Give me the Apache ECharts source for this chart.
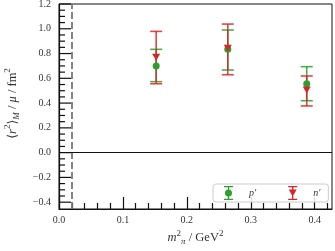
<!DOCTYPE html>
<html><head><meta charset="utf-8">
<script src="https://cdn.jsdelivr.net/npm/echarts@6/dist/echarts.min.js"></script>
<style>html,body{margin:0;padding:0;background:#fff}#c{width:335px;height:251px}</style>
</head><body><div id="c"></div>
<script>
const mpi2 = [0.152, 0.264, 0.3875];
const pVal = [0.70, 0.835, 0.556];
const pLo  = [0.573, 0.667, 0.419];
const pHi  = [0.834, 0.99, 0.694];
const nVal = [0.77, 0.842, 0.506];
const nLo  = [0.556, 0.629, 0.377];
const nHi  = [0.979, 1.038, 0.619];
const physMpi2 = 0.0182;
const xRange = [0, 0.427];
const yRange = [-0.455, 1.2];
const xTickStep = 0.1, xMinorSplit = 5;
const yTickStep = 0.2;
const yTickFirst = -0.4;
const yMajorTicks = [-0.4, -0.2, 0.0, 0.2, 0.4, 0.6, 0.8, 1.0, 1.2];
const yMinorTicks = [-0.35,-0.3,-0.25,-0.15,-0.1,-0.05,0.05,0.1,0.15,0.25,0.3,0.35,0.45,0.5,0.55,0.65,0.7,0.75,0.85,0.9,0.95,1.05,1.1,1.15];

const GREEN = '#2ca02c', RED = '#d62728';
const FONT = "'Liberation Serif','DejaVu Serif',serif";

function errRender(color){
  return function(params, api){
    const x = api.value(0), lo = api.value(1), hi = api.value(2);
    const a = api.coord([x, hi]), b = api.coord([x, lo]);
    const w = 6, st = {stroke: color, lineWidth: 1.6, opacity: 0.85};
    return {type:'group', children:[
      {type:'line', shape:{x1:a[0],y1:a[1],x2:b[0],y2:b[1]}, style:st},
      {type:'line', shape:{x1:a[0]-w,y1:a[1],x2:a[0]+w,y2:a[1]}, style:st},
      {type:'line', shape:{x1:b[0]-w,y1:b[1],x2:b[0]+w,y2:b[1]}, style:st}
    ]};
  };
}
const pErr = mpi2.map((x,i)=>[x, pLo[i], pHi[i]]);
const nErr = mpi2.map((x,i)=>[x, nLo[i], nHi[i]]);
const pPts = mpi2.map((x,i)=>[x, pVal[i]]);
const nPts = mpi2.map((x,i)=>[x, nVal[i]]);

const fmt = v => (Math.abs(v) < 1e-9 ? '0.0' : v.toFixed(1)).replace('-', '\u2212');

const greenIcon = 'path://M0 0H9V1.3H0Z M3.85 0H5.15V14H3.85Z M0 12.7H9V14H0Z M4.5 3.5A3.5 3.5 0 1 1 4.5 10.5A3.5 3.5 0 1 1 4.5 3.5Z';
const redIcon = 'path://M0 0H9V1.3H0Z M3.85 0H5.15V14H3.85Z M0 12.7H9V14H0Z M0.5 3.5H8.5L4.5 10.5Z';

const G = {left:59, top:4, width:273, height:205};
const pxPerX = G.width / (xRange[1]-xRange[0]);
const pxPerY = G.height / (yRange[1]-yRange[0]);
const tickXMax = 0.5;
const tickGrid = {left:G.left, top:G.top, width:(tickXMax - 0)*pxPerX, height:(yRange[1]-yTickFirst)*pxPerY};
const xOff = G.height - tickGrid.height;

const rich = s => ({
  i:{fontFamily:FONT, fontStyle:'italic', fontSize:s, color:'#333'},
  n:{fontFamily:FONT, fontSize:s, color:'#333'},
  sup:{fontFamily:FONT, fontSize:Math.round(s*0.68), color:'#333', verticalAlign:'top', lineHeight:s+5},
  sub:{fontFamily:FONT, fontStyle:'italic', fontSize:Math.round(s*0.68), color:'#333', verticalAlign:'bottom', lineHeight:s+5}
});

const chart = echarts.init(document.getElementById('c'), null, {renderer:'canvas'});
chart.setOption({
  animation:false,
  grid:[
    {left:G.left, top:G.top, width:G.width, height:G.height, show:true, borderColor:'#111', borderWidth:1, containLabel:false, outerBoundsMode:'none'},
    {left:tickGrid.left, top:tickGrid.top, width:tickGrid.width, height:tickGrid.height, show:false, containLabel:false, outerBoundsMode:'none'}
  ],
  xAxis:[
    {gridIndex:0, type:'value', min:xRange[0], max:xRange[1], splitLine:{show:false},
     axisLine:{show:true, onZero:false, lineStyle:{color:'#111', width:1.2}},
     axisTick:{show:false}, axisLabel:{show:false},
     name:'{i|m}{sup|2}{sub|π}{n| / GeV}{sup|2}', nameLocation:'middle', nameGap:20,
     nameTextStyle:{fontFamily:FONT, fontSize:12.5, color:'#333', rich:rich(12.5)}},
    {gridIndex:1, type:'value', min:0, max:tickXMax, interval:xTickStep, offset:xOff, splitLine:{show:false},
     axisLine:{show:false, onZero:false},
     axisTick:{show:true, inside:true, length:12, lineStyle:{color:'#111', width:1.2}},
     minorTick:{show:true, splitNumber:xMinorSplit, length:6, lineStyle:{color:'#111', width:1.2}},
     axisLabel:{formatter:fmt, fontFamily:FONT, fontSize:10, color:'#333', margin:6}}
  ],
  yAxis:[
    {gridIndex:0, type:'value', min:yRange[0], max:yRange[1], splitLine:{show:false},
     axisLine:{show:true, onZero:false, lineStyle:{color:'#111', width:1.2}},
     axisTick:{show:false}, axisLabel:{show:false},
     name:'⟨{i|r}{sup|2}⟩{sub|M}{n| / }{i|μ}{n| / fm}{sup|2}', nameLocation:'middle', nameGap:38,
     nameTextStyle:{fontFamily:FONT, fontSize:12.5, color:'#333', rich:rich(12.5), padding:[0,0,0,6]}},
    {gridIndex:1, type:'value', min:yTickFirst, max:yRange[1], interval:yTickStep, splitLine:{show:false},
     axisLine:{show:false, onZero:false},
     axisTick:{show:false}, minorTick:{show:false},
     axisLabel:{formatter:fmt, fontFamily:FONT, fontSize:10, color:'#333', margin:8}}
  ],
  legend:{left:213, top:184, orient:'horizontal', itemWidth:9, itemHeight:14, itemGap:32,
    backgroundColor:'rgba(255,255,255,0.85)', borderColor:'#ccc', borderWidth:1, borderRadius:3,
    padding:[2,8,2,11],
    textStyle:{fontFamily:FONT, fontStyle:'italic', fontSize:10, color:'#333', padding:[0,0,0,11]},
    data:[{name:'p′', icon:greenIcon, itemStyle:{color:GREEN}}, {name:'n′', icon:redIcon, itemStyle:{color:RED}}]},
  series:[
    {type:'custom', name:'pErr', xAxisIndex:0, yAxisIndex:0, renderItem:errRender(GREEN), data:pErr, encode:{x:0, y:[1,2]}, z:2,
     markLine:{silent:true, symbol:'none', label:{show:false},
       data:[{xAxis:physMpi2, lineStyle:{color:'#777', type:[7,3], width:1.8}},
             {yAxis:0, lineStyle:{color:'#111', type:'solid', width:1.2}}]}},
    {type:'custom', name:'nErr', xAxisIndex:0, yAxisIndex:0, renderItem:errRender(RED), data:nErr, encode:{x:0, y:[1,2]}, z:3},
    {type:'scatter', name:'p′', xAxisIndex:0, yAxisIndex:0, data:pPts, symbol:'circle', symbolSize:7, itemStyle:{color:GREEN, opacity:1}, z:4},
    {type:'scatter', name:'n′', xAxisIndex:0, yAxisIndex:0, data:nPts, symbol:'triangle', symbolRotate:180, symbolSize:[8,7], itemStyle:{color:RED, opacity:1}, z:5}
  ]
});

// left-axis ticks: y position from the y axis scale, x at the grid's left edge
function tickEls(values, len){
  const x0 = G.left;
  return values.map(v => {
    const y = chart.convertToPixel({yAxisIndex:0}, v);
    return {type:'line', z:100, silent:true,
      shape:{x1:x0 + 0.5, y1:y, x2:x0 + len, y2:y},
      style:{stroke:'#111', lineWidth:1.2}};
  });
}
chart.setOption({graphic:{elements: tickEls(yMajorTicks, 12).concat(tickEls(yMinorTicks, 6))}});
</script></body></html>
